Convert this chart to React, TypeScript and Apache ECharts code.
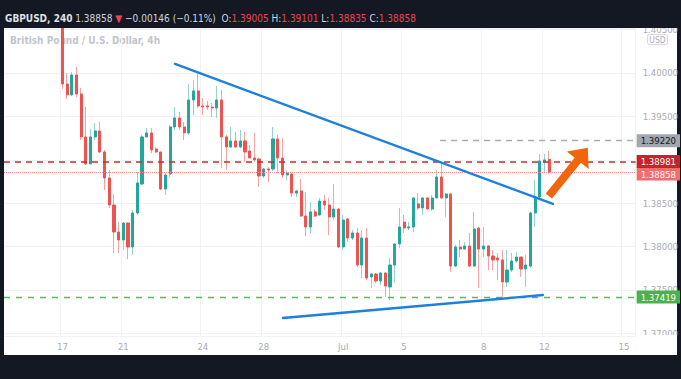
import { useEffect, useRef } from 'react';
import * as echarts from 'echarts';

// OHLC of the 4h candles
const openP = [1.40650, 1.39873, 1.39747, 1.39977, 1.39758, 1.39263, 1.38952, 1.39263, 1.39332, 1.39090,
  1.38790, 1.38479, 1.38168, 1.38076, 1.38272, 1.37995, 1.38387, 1.38721, 1.39263, 1.39309,
  1.39124, 1.39090, 1.38664, 1.38836, 1.39378, 1.39482, 1.39378, 1.39309, 1.39689, 1.39793,
  1.39620, 1.39620, 1.39608, 1.39597, 1.39689, 1.39263, 1.39147, 1.39217, 1.39147, 1.39217,
  1.39101, 1.39021, 1.39009, 1.38813, 1.38894, 1.38894, 1.39240, 1.39021, 1.38825, 1.38836,
  1.38617, 1.38641, 1.38352, 1.38226, 1.38399, 1.38364, 1.38525, 1.38479, 1.38341, 1.38433,
  1.37995, 1.38318, 1.38099, 1.38157, 1.37788, 1.38099, 1.37650, 1.37684, 1.37604, 1.37696,
  1.37535, 1.37788, 1.38030, 1.38283, 1.38214, 1.38226, 1.38491, 1.38445, 1.38560, 1.38433,
  1.38560, 1.38802, 1.38560, 1.38606, 1.37776, 1.37995, 1.37972, 1.38007, 1.37776, 1.38214,
  1.37972, 1.38007, 1.37892, 1.37869, 1.37846, 1.37592, 1.37730, 1.37834, 1.37880, 1.37742,
  1.37776, 1.38387, 1.38571, 1.38975, 1.39005];
const closeP = [1.39873, 1.39747, 1.39977, 1.39758, 1.39263, 1.38952, 1.39263, 1.39332, 1.39090, 1.38790,
  1.38479, 1.38168, 1.38076, 1.38272, 1.37995, 1.38387, 1.38733, 1.39263, 1.39309, 1.39113,
  1.39090, 1.38664, 1.38825, 1.39378, 1.39482, 1.39378, 1.39309, 1.39689, 1.39793, 1.39620,
  1.39608, 1.39608, 1.39597, 1.39689, 1.39263, 1.39147, 1.39217, 1.39147, 1.39217, 1.39090,
  1.39021, 1.38998, 1.38813, 1.38894, 1.38882, 1.39240, 1.39021, 1.38825, 1.38848, 1.38617,
  1.38641, 1.38352, 1.38226, 1.38399, 1.38352, 1.38525, 1.38479, 1.38341, 1.38433, 1.37995,
  1.38306, 1.38099, 1.38157, 1.37788, 1.38099, 1.37638, 1.37684, 1.37604, 1.37696, 1.37546,
  1.37788, 1.38030, 1.38226, 1.38214, 1.38226, 1.38560, 1.38445, 1.38560, 1.38433, 1.38560,
  1.38802, 1.38560, 1.38606, 1.37776, 1.37995, 1.37972, 1.38007, 1.37776, 1.38203, 1.37972,
  1.38007, 1.37892, 1.37846, 1.37846, 1.37592, 1.37730, 1.37834, 1.37880, 1.37742, 1.37788,
  1.38387, 1.38571, 1.38986, 1.38998, 1.38858];
const lowP = [1.39816, 1.39700, 1.39735, 1.39724, 1.39228, 1.38940, 1.38952, 1.39228, 1.39078, 1.38652,
  1.38445, 1.37926, 1.37926, 1.37961, 1.37857, 1.37903, 1.38364, 1.38710, 1.39263, 1.39078,
  1.39078, 1.38652, 1.38594, 1.38802, 1.39343, 1.39343, 1.39228, 1.39286, 1.39516, 1.39597,
  1.39516, 1.39574, 1.39493, 1.39482, 1.38906, 1.38882, 1.39136, 1.39136, 1.39136, 1.38975,
  1.39021, 1.38975, 1.38687, 1.38790, 1.38744, 1.38871, 1.38848, 1.38790, 1.38767, 1.38571,
  1.38571, 1.38341, 1.38122, 1.38145, 1.38341, 1.38352, 1.38422, 1.38134, 1.38306, 1.37984,
  1.37961, 1.38053, 1.38076, 1.37765, 1.37638, 1.37615, 1.37523, 1.37581, 1.37558, 1.37419,
  1.37385, 1.37581, 1.37984, 1.38157, 1.38191, 1.38168, 1.38422, 1.38364, 1.38422, 1.38410,
  1.38560, 1.38548, 1.38341, 1.37707, 1.37765, 1.37880, 1.37961, 1.37765, 1.37765, 1.37523,
  1.37880, 1.37730, 1.37730, 1.37615, 1.37419, 1.37535, 1.37707, 1.37811, 1.37650, 1.37535,
  1.37753, 1.38226, 1.38560, 1.38848, 1.38835];
const highP = [1.40700, 1.40000, 1.40012, 1.40069, 1.39827, 1.39608, 1.39355, 1.39424, 1.39435, 1.39113,
  1.38882, 1.38606, 1.38283, 1.38283, 1.38283, 1.38422, 1.38859, 1.39286, 1.39366, 1.39366,
  1.39147, 1.39090, 1.38848, 1.39401, 1.39608, 1.39551, 1.39435, 1.39873, 1.39919, 1.40012,
  1.39712, 1.39677, 1.39654, 1.39850, 1.39804, 1.39286, 1.39378, 1.39320, 1.39343, 1.39320,
  1.39171, 1.39309, 1.39021, 1.38906, 1.38917, 1.39378, 1.39286, 1.39251, 1.38882, 1.38848,
  1.38652, 1.38779, 1.38629, 1.38514, 1.38433, 1.38560, 1.38594, 1.38560, 1.38721, 1.38445,
  1.38364, 1.38329, 1.38191, 1.38214, 1.38191, 1.38214, 1.37696, 1.37696, 1.37707, 1.37707,
  1.37869, 1.38041, 1.38445, 1.38364, 1.38283, 1.38571, 1.38617, 1.38571, 1.38571, 1.38594,
  1.38882, 1.38963, 1.38617, 1.38617, 1.38018, 1.38076, 1.38053, 1.38157, 1.38399, 1.38226,
  1.38226, 1.38018, 1.37961, 1.37926, 1.37961, 1.37961, 1.37926, 1.37938, 1.37880, 1.37903,
  1.38399, 1.38767, 1.39067, 1.39067, 1.39101];

// time axis: slots (4h bars incl. empty space on the right) and tick labels
const slotCount = 135;
const firstSlot = 12;
const tickLabels = ['17', '21', '24', '28', 'Jul', '5', '8', '12', '15'];
const tickSlots = [12, 25, 42, 55, 72, 85, 102, 115, 132];

// price axis
const yMin = 1.3697;
const yMax = 1.40518;
const hiddenPriceTicks = ['1.39000']; // covered by the price label boxes

// horizontal levels
const levelGray = 1.39220;
const levelRed = 1.38981;
const lastPrice = 1.38858;
const levelGreen = 1.37419;
const grayStartSlot = 92.7;

// drawings, in [slot, price]
const upperTrend = [[36.04, 1.40104], [116.81, 1.38491]];
const lowerTrend = [[59.12, 1.37177], [114.67, 1.37442]];
const arrowPts = [[115.95, 1.38583], [123.2, 1.39067]];

const NARROW = "'Liberation Sans Narrow', 'DejaVu Sans Condensed', 'Arial Narrow', sans-serif";

export default function App() {
  const ref = useRef<HTMLDivElement>(null);
  useEffect(() => {
    document.body.style.margin = '0';
    const chart = echarts.init(ref.current!, undefined, { renderer: 'svg' });
    const n = openP.length;
    const cats = Array.from({ length: slotCount }, (_, i) => String(i));
    const labelAt: Record<number, string> = {};
    tickSlots.forEach((s, i) => { labelAt[s] = tickLabels[i]; });
    const empty = ['-', '-', '-', '-'];
    const wickData = cats.map((_, i) => {
      const k = i - firstSlot;
      return k >= 0 && k < n ? [openP[k], closeP[k], lowP[k], highP[k]] : empty;
    });
    const bodyData = cats.map((_, i) => {
      const k = i - firstSlot;
      return k >= 0 && k < n
        ? [openP[k], closeP[k], Math.min(openP[k], closeP[k]), Math.max(openP[k], closeP[k])]
        : empty;
    });
    const xLeft = -0.5;
    const xRight = slotCount - 0.5;

    const boxLabel = (text: string, bg: string, fg: string, offsetY = 0) => ({
      show: true,
      position: 'end',
      distance: 1,
      formatter: text,
      color: fg,
      backgroundColor: bg,
      padding: [2, 4, 1, 4],
      fontSize: 9.5,
      lineHeight: 10,
      fontFamily: NARROW,
      offset: [0, offsetY],
    });

    const level = (from: number, v: number, lineStyle: any, label: any) => [
      { coord: [from, v], lineStyle, label },
      { coord: [xRight, v] },
    ];

    const option: any = {
      animation: false,
      backgroundColor: '#141823',
      grid: { left: 4, right: 45, top: 28, bottom: 43, containLabel: false },
      xAxis: [
        {
          type: 'category',
          data: cats,
          boundaryGap: true,
          axisLine: { show: false },
          axisTick: { show: false },
          axisLabel: {
            interval: 0,
            margin: 5,
            color: '#a8abb3',
            fontSize: 9.5,
            fontFamily: NARROW,
            formatter: (_v: string, idx: number) => labelAt[idx] || '',
          },
          splitLine: {
            show: true,
            interval: (idx: number) => labelAt[idx] !== undefined,
            lineStyle: { color: '#f1f2f5', width: 1 },
          },
        },
        { type: 'value', min: xLeft, max: xRight, show: false },
      ],
      yAxis: {
        type: 'value',
        position: 'right',
        min: yMin,
        max: yMax,
        splitNumber: 7,
        axisLine: { show: false },
        axisTick: { show: false },
        axisLabel: {
          margin: 7,
          color: '#a8abb3',
          fontSize: 9.5,
          fontFamily: NARROW,
          showMinLabel: false,
          showMaxLabel: false,
          formatter: (v: number) => {
            const s = v.toFixed(5);
            return hiddenPriceTicks.includes(s) ? '' : s;
          },
        },
        splitLine: { lineStyle: { color: '#f1f2f5', width: 1 } },
      },
      series: [
        {
          type: 'candlestick',
          data: wickData,
          barWidth: 1,
          silent: true,
          z: 2,
          itemStyle: {
            color: '#93d3cc', color0: '#f5a3a1',
            borderColor: '#93d3cc', borderColor0: '#f5a3a1', borderWidth: 1,
          },
        },
        {
          type: 'candlestick',
          data: bodyData,
          barWidth: 2.6,
          silent: true,
          z: 3,
          itemStyle: {
            color: '#26a69a', color0: '#ef5350',
            borderColor: '#26a69a', borderColor0: '#ef5350', borderWidth: 1,
          },
        },
        {
          type: 'line',
          xAxisIndex: 1,
          data: [],
          silent: true,
          z: 4,
          markLine: {
            silent: true,
            precision: 6,
            symbol: ['none', 'none'],
            animation: false,
            emphasis: { disabled: true },
            data: [
              level(xLeft, lastPrice, { color: '#f28b8b', type: 'dotted', width: 1 },
                boxLabel(lastPrice.toFixed(5), '#f26d6d', '#ffffff', 2)),
              level(xLeft, levelGreen, { color: '#5cb860', type: [6, 6], width: 1.3 },
                boxLabel(levelGreen.toFixed(5), '#4caf50', '#ffffff')),
              level(grayStartSlot, levelGray, { color: '#a9acb4', type: [6, 5], width: 1.4 },
                boxLabel(levelGray.toFixed(5), '#a3a6af', '#131722')),
              level(xLeft, levelRed, { color: '#d3262b', type: [6, 5], width: 1.5 },
                boxLabel(levelRed.toFixed(5), '#c8232a', '#ffffff')),
            ],
          },
        },
        {
          type: 'line',
          xAxisIndex: 1,
          data: [],
          silent: true,
          z: 5,
          markLine: {
            silent: true,
            precision: 6,
            symbol: ['none', 'none'],
            animation: false,
            emphasis: { disabled: true },
            label: { show: false },
            lineStyle: { color: '#1f7fdc', width: 2.4, type: 'solid', cap: 'round' },
            data: [
              [{ coord: upperTrend[0] }, { coord: upperTrend[1] }],
              [{ coord: lowerTrend[0] }, { coord: lowerTrend[1] }],
            ],
          },
        },
        {
          type: 'line',
          xAxisIndex: 1,
          data: [],
          silent: true,
          z: 6,
          markLine: {
            silent: true,
            precision: 6,
            animation: false,
            emphasis: { disabled: true },
            label: { show: false },
            lineStyle: { color: '#f0650e', width: 8, type: 'solid' },
            itemStyle: { color: '#f0650e' },
            data: [
              [
                { coord: arrowPts[0], symbol: 'none' },
                { coord: arrowPts[1], symbol: 'triangle', symbolSize: [28, 16] },
              ],
            ],
          },
        },
      ],
      graphic: [
        { type: 'rect', z: -20, silent: true, shape: { x: 4, y: 28, width: 673, height: 327 }, style: { fill: '#ffffff' } },
        {
          type: 'text', z: -5, silent: true, x: 10, y: 40,
          style: {
            text: 'British Pound / U.S. Dollar, 4h',
            fill: '#c2c5cb', font: `bold 10px ${NARROW}`, verticalAlign: 'middle',
          },
        },
        { type: 'rect', z: 50, silent: true, shape: { x: 0, y: 0, width: 681, height: 28 }, style: { fill: '#141823' } },
        { type: 'rect', z: 50, silent: true, shape: { x: 637, y: 335, width: 40, height: 20 }, style: { fill: '#ffffff' } },
        {
          type: 'rect', z: 51, silent: true,
          shape: { x: 647.5, y: 34.5, width: 20, height: 10, r: 2 },
          style: { fill: '#ffffff', stroke: '#d6d8de', lineWidth: 1 },
        },
        {
          type: 'text', z: 52, silent: true, x: 657.5, y: 39.8,
          style: { text: 'USD', fill: '#a8abb3', font: `8.5px ${NARROW}`, align: 'center', verticalAlign: 'middle' },
        },
        {
          type: 'text', z: 52, silent: true, x: 5, y: 18.5,
          style: {
            text: '{b|GBPUSD, 240} {w|1.38858} {r|▼} {w|−0.00146 (−0.11%)}  {w|O:}{r|1.39005} {w|H:}{r|1.39101} {w|L:}{r|1.38835} {w|C:}{r|1.38858}',
            verticalAlign: 'middle',
            font: `10px ${NARROW}`,
            rich: {
              b: { fill: '#dfe1e6', font: `bold 10px ${NARROW}` },
              w: { fill: '#d1d4dc', font: `10px ${NARROW}` },
              r: { fill: '#f0434f', font: `10px ${NARROW}` },
            },
          },
        },
      ],
    };
    chart.setOption(option);
    return () => chart.dispose();
  }, []);
  return (
    <div
      ref={ref}
      style={{ position: 'fixed', left: 0, top: 0, width: 681, height: 379, background: '#141823' }}
    />
  );
}
